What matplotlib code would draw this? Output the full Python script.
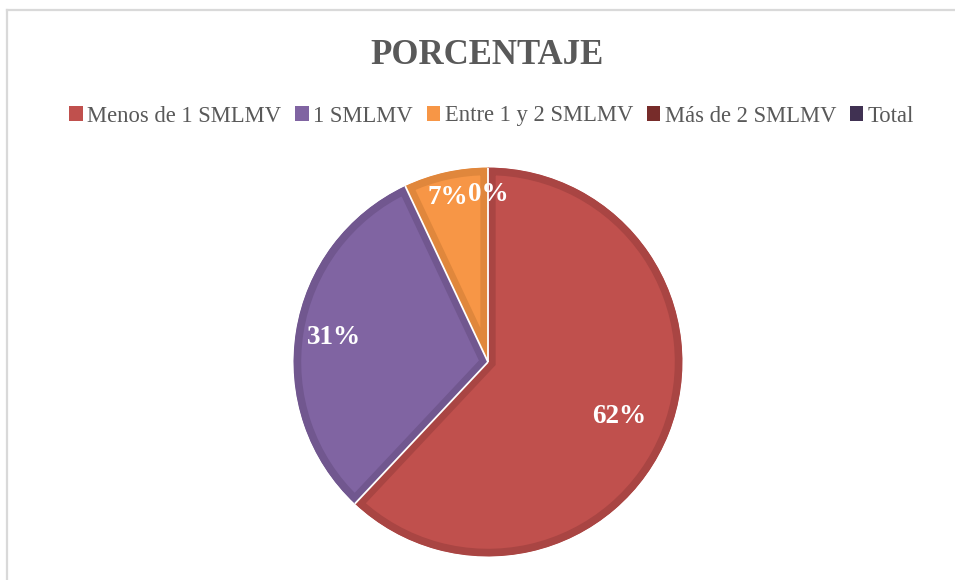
import numpy as np
import matplotlib
matplotlib.use('Agg')
import matplotlib.pyplot as plt
from matplotlib.patches import Patch
from matplotlib.lines import Line2D

TITLE = 'PORCENTAJE'
CATEGORIES = ['Menos de 1 SMLMV', '1 SMLMV', 'Entre 1 y 2 SMLMV', 'Más de 2 SMLMV', 'Total']
VALUES = [62, 31, 7, 0]  # Total is not drawn as a slice
LABELS = ['62%', '31%', '7%', '0%']

COLORS = ['#C0504D', '#8064A2', '#F79646', '#772C2A', '#403152']
EDGES = ['#A94543', '#71578F', '#E0873C', '#6A2725']
LABEL_RAD = [0.73, 0.80, 0.87, 0.86]  # how far out each label sits
LABEL_SHIFT = [-1, 0, 1, 0]           # small angular nudge in degrees

SERIF = ['Liberation Serif', 'DejaVu Serif']
TEXT_COL = '#595959'

fig = plt.figure(figsize=(9.55, 5.8), dpi=100)

# light chart frame
fig.add_artist(Line2D([6.5 / 955, 1], [1 - 9.5 / 580] * 2, color='#D9D9D9', lw=1.6))
fig.add_artist(Line2D([6.5 / 955] * 2, [0, 1 - 9.5 / 580], color='#D9D9D9', lw=1.6))

fig.text(0.510, 1 - 55 / 580, TITLE, ha='center', va='center', family=SERIF,
         fontsize=25, fontweight='bold', color=TEXT_COL)

# pie axes: center (488, 362), radius 195 px
r = 195
ax = fig.add_axes([(488 - r) / 955, (580 - 362 - r) / 580, 2 * r / 955, 2 * r / 580])
wedges, _ = ax.pie(VALUES, colors=COLORS[:4], startangle=90, counterclock=False,
                   wedgeprops=dict(edgecolor='none'))

# darker inner border: stroke clipped to the wedge itself
for w, ec, v in zip(wedges, EDGES, VALUES):
    if v == 0:
        continue
    w.set_edgecolor(ec)
    w.set_linewidth(11)
    w.set_clip_path(w.get_path(), w.get_transform())
    w.set_clip_on(True)

# thin white separators between slices
for w, v in zip(wedges, VALUES):
    if v == 0:
        continue
    a = np.deg2rad(w.theta1)
    ax.plot([0, np.cos(a)], [0, np.sin(a)], color='white', lw=1.3,
            solid_capstyle='butt')

for w, lab, rad, sh in zip(wedges, LABELS, LABEL_RAD, LABEL_SHIFT):
    ang = np.deg2rad((w.theta1 + w.theta2) / 2 + sh)
    ax.text(rad * np.cos(ang), rad * np.sin(ang), lab, ha='center', va='center',
            family=SERIF, fontsize=19.5, fontweight='bold', color='white')

ax.set_xlim(-1.003, 1.003)
ax.set_ylim(-1.003, 1.003)
ax.set_aspect('equal')
ax.axis('off')

handles = [Patch(facecolor=c, edgecolor='none') for c in COLORS]
fig.legend(handles, CATEGORIES, loc='center', bbox_to_anchor=(0.515, 1 - 116 / 580),
           ncol=5, frameon=False, prop={'family': SERIF, 'size': 16.3},
           labelcolor=TEXT_COL, handlelength=0.6, handleheight=0.6,
           handletextpad=0.2, columnspacing=0.6)

fig.savefig('out.png', dpi=100, facecolor='white')
